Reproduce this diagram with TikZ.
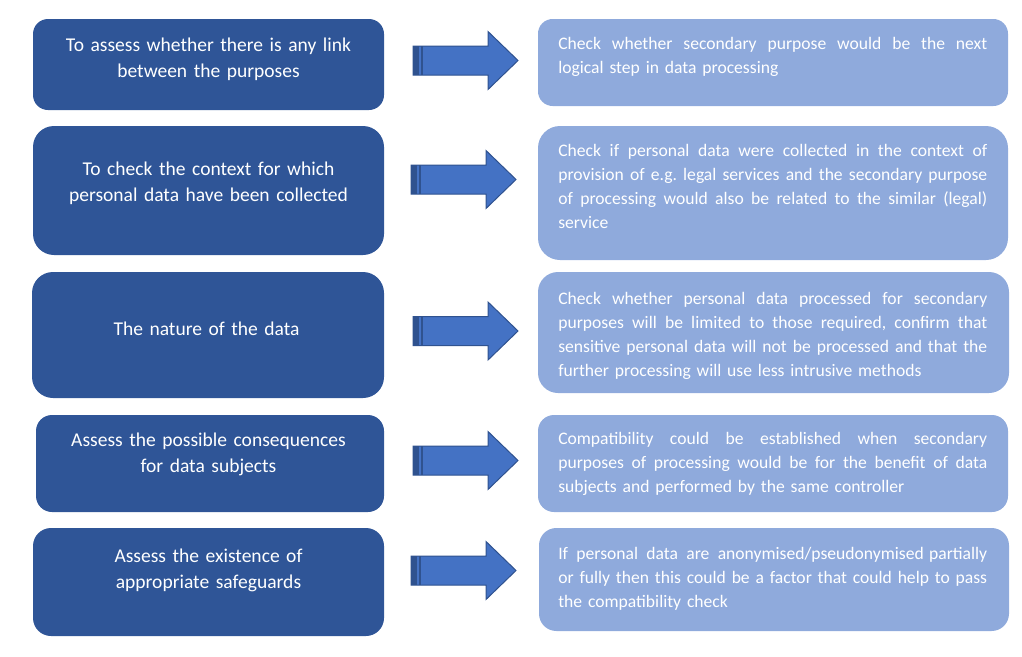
\documentclass[tikz,border=0pt]{standalone}
\usepackage{fontspec}
\setmainfont{Carlito}
\frenchspacing
\definecolor{boxdark}{HTML}{2F5597}
\definecolor{boxlight}{HTML}{8FAADC}
\definecolor{arrowfill}{HTML}{4472C4}
\definecolor{arrowedge}{HTML}{2F528F}
\newlength{\rtw}
\setlength{\rtw}{321.75pt}
\tikzset{
  lbox/.style={fill=boxdark, draw=none, inner sep=0pt, outer sep=0pt, rectangle},
  rbox/.style={fill=boxlight, draw=none, inner sep=0pt, outer sep=0pt, rectangle},
  ltext/.style={text=white, font=\fontsize{14.65}{19.9}\selectfont, align=center,
    text width=262pt, anchor=base, inner sep=0pt},
  rtext/.style={text=white, font=\fontsize{13.2}{18.2}\selectfont, align=left,
    text width=\rtw, anchor=base west, inner sep=0pt},
  barrow/.pic={
    \fill[arrowfill, draw=arrowedge, line width=0.75pt, line join=miter]
      (0,-14.5) -- (75,-14.5) -- (75,-29) -- (105,0) -- (75,29) -- (75,14.5) -- (0,14.5) -- cycle;
    \fill[arrowedge] (0,-14.5) rectangle (6,14.5);
    \draw[arrowedge, line width=1.1pt] (8.8,-14.5) -- (8.8,14.5);
  }
}
\newcommand{\jl}[1]{\leavevmode{\spaceskip=0.226em plus 1fil\relax\hbox to \rtw{#1}}}
\begin{document}
\begin{tikzpicture}[x=0.75pt,y=-0.75pt]
\useasboundingbox (0,0) rectangle (1022,657);
% left boxes
\node[lbox, minimum width=263.25pt, minimum height=68.25pt, rounded corners=11.25pt] (L1) at (208.5,64.5) {};
\node[lbox, minimum width=263.25pt, minimum height=96.75pt, rounded corners=15.75pt] (L2) at (208.5,190.5) {};
\node[lbox, minimum width=264pt, minimum height=94.5pt, rounded corners=15.75pt] (L3) at (208,335) {};
\node[lbox, minimum width=261pt, minimum height=72.75pt, rounded corners=12pt] (L4) at (210,463.5) {};
\node[lbox, minimum width=263.25pt, minimum height=81pt, rounded corners=13.5pt] (L5) at (208.5,582) {};
% right boxes
\node[rbox, minimum width=352.5pt, minimum height=65.25pt, rounded corners=11pt] (R1) at (773,62.5) {};
\node[rbox, minimum width=352.5pt, minimum height=100.5pt, rounded corners=16.5pt] (R2) at (773,193) {};
\node[rbox, minimum width=353.25pt, minimum height=90.75pt, rounded corners=15pt] (R3) at (773.5,332.5) {};
\node[rbox, minimum width=352.5pt, minimum height=72.75pt, rounded corners=12pt] (R4) at (773,463.5) {};
\node[rbox, minimum width=352.5pt, minimum height=77.25pt, rounded corners=13pt] (R5) at (774,579.5) {};
% left texts
\node[ltext] (T1) at (208.5,51) {To assess whether there is any link\\between the purposes};
\node[ltext] (T2) at (208.5,175) {To check the context for which\\personal data have been collected};
\node[ltext] (T3) at (206.5,335) {The nature of the data};
\node[ltext] (T4) at (208.5,446) {Assess the possible consequences\\for data subjects};
\node[ltext] (T5) at (208.5,562) {Assess the existence of\\appropriate safeguards};
% right texts
\node[rtext] (S1) at (558,49) {\jl{Check whether secondary purpose would be the next}\\logical step in data processing};
\node[rtext] (S2) at (558,156) {\jl{Check if personal data were collected in the context of}\\\jl{provision of e.g. legal services and the secondary purpose}\\\jl{of processing would also be related to the similar (legal)}\\service};
\node[rtext] (S3) at (558,304) {\jl{Check whether personal data processed for secondary}\\\jl{purposes will be limited to those required, confirm that}\\\jl{sensitive personal data will not be processed and that the}\\further processing will use less intrusive methods};
\node[rtext] (S4) at (558,444) {\jl{Compatibility could be established when secondary}\\\jl{purposes of processing would be for the benefit of data}\\subjects and performed by the same controller};
\node[rtext] (S5) at (558,559) {\jl{If personal data are anonymised/pseudonymised\hspace{0.3em}partially}\\\jl{or fully then this could be a factor that could help to pass}\\the compatibility check};
% arrows
\pic (A1) at (413,60.5) {barrow};
\pic (A2) at (411,179.5) {barrow};
\pic (A3) at (413,331) {barrow};
\pic (A4) at (413,460.5) {barrow};
\pic (A5) at (411,570.5) {barrow};
\end{tikzpicture}
\end{document}
